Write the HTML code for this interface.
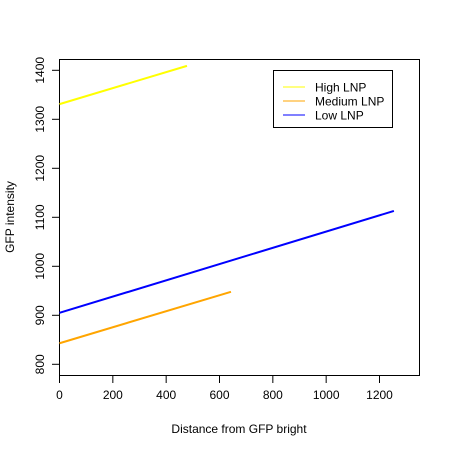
<!DOCTYPE html>
<html><head><meta charset="utf-8"><style>body{margin:0;background:#fff}svg{display:block;font-family:"Liberation Sans",Arial,sans-serif}</style></head>
<body>
<svg id="c" width="450" height="450"></svg>
<script>
const seriesNames=["High LNP","Medium LNP","Low LNP"];
const seriesColors=["#ffff00","#ffa500","#0000ff"];
const xStart=[0,0,0];
const xEnd=[478,643,1254];
const yStart=[1331,843,905];
const yEnd=[1409,948,1113];
const xTicks=[0,200,400,600,800,1000,1200];
const yTicks=[800,900,1000,1100,1200,1300,1400];
const NS="http://www.w3.org/2000/svg";
const svg=document.getElementById('c');
const sx=v=>59.5+v*320/1200;
const sy=v=>364.3-(v-800)*294/600;
function mk(t,a,txt){const e=document.createElementNS(NS,t);for(const k in a)e.setAttribute(k,a[k]);if(txt!==undefined)e.textContent=txt;svg.appendChild(e);return e;}
let e=mk('rect',{x:59.5,y:59.5,width:360,height:316,fill:'none',stroke:'#000'});


xTicks.forEach(v=>{
 let t=mk('line',{x1:sx(v),x2:sx(v),y1:376,y2:383,stroke:'#000'});
 
 
 let l=mk('text',{x:sx(v),y:399,'font-size':12,'text-anchor':'middle'},v);
 
 
});
yTicks.forEach(v=>{
 let t=mk('line',{x1:52,x2:59.5,y1:sy(v),y2:sy(v),stroke:'#000'});
 
 
 let l=mk('text',{x:44,y:sy(v),'font-size':12,'text-anchor':'middle',transform:`rotate(-90 44 ${sy(v)})`},v);
 
 
});
e=mk('text',{x:239,y:433,'font-size':12,'text-anchor':'middle'},'Distance from GFP bright');


e=mk('text',{x:14,y:217,'font-size':12,'text-anchor':'middle',transform:'rotate(-90 14 217)'},'GFP intensity');


seriesNames.forEach((n,i)=>{
 let l=mk('line',{x1:sx(xStart[i]),y1:sy(yStart[i]),x2:sx(xEnd[i]),y2:sy(yEnd[i]),stroke:seriesColors[i],'stroke-width':2});
 
 
});
e=mk('rect',{x:273.5,y:70.5,width:119,height:57,fill:'#fff',stroke:'#000'});


seriesNames.forEach((n,i)=>{
 const y=87+i*14;
 let l=mk('line',{x1:283,x2:305,y1:y,y2:y,stroke:seriesColors[i]});
 
 
 let t=mk('text',{x:315,y:y+4.5,'font-size':12},n);
 
 
});
</script>
</body></html>
